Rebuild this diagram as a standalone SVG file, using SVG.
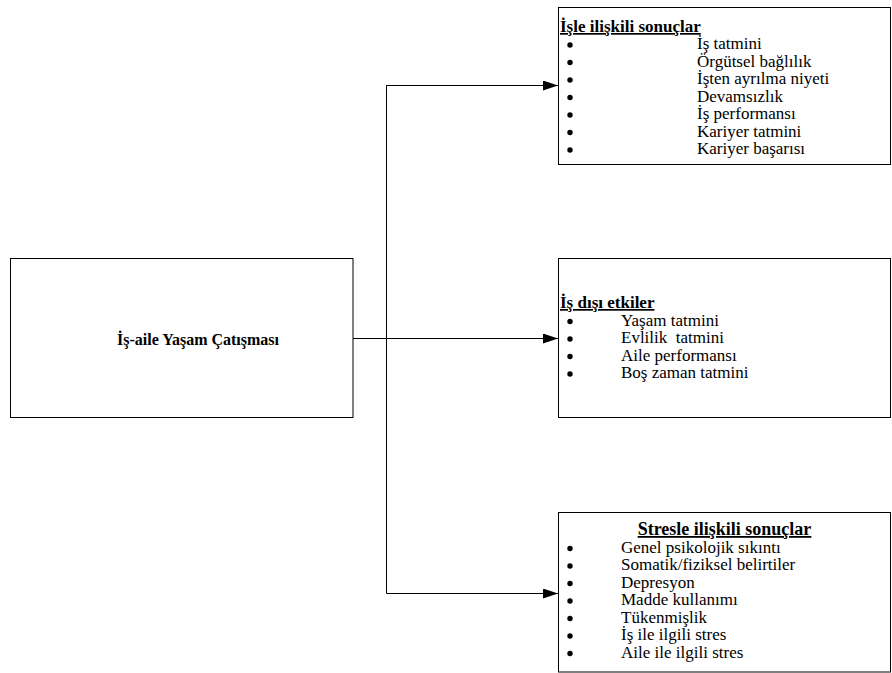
<svg xmlns="http://www.w3.org/2000/svg" width="892" height="673" viewBox="0 0 892 673">
<defs>
<style>
.box{fill:#fff;stroke:#000;stroke-width:1}
.t{font-family:"Liberation Serif","Times New Roman",serif;font-size:17px;fill:#000}
.b{font-weight:bold}
.u{text-decoration:underline}
.con{fill:none;stroke:#000;stroke-width:1}
.dot{fill:#000}
</style>
<marker id="arr" viewBox="0 0 15 10" refX="15" refY="5" markerWidth="15" markerHeight="10" markerUnits="userSpaceOnUse" orient="auto">
<path d="M0,0 L15,5 L0,10 Z" fill="#000"/>
</marker>
</defs>
<rect width="892" height="673" fill="#fff"/>
<g id="connectors">
<line class="con" x1="353" y1="338.5" x2="558" y2="338.5" marker-end="url(#arr)"/>
<polyline class="con" points="558,85.5 386.5,85.5 386.5,593.5 558,593.5" marker-end="url(#arr)"/>
<line class="con" x1="386.5" y1="85.5" x2="558" y2="85.5" marker-end="url(#arr)"/>
</g>
<g id="main">
<rect class="box" x="10.5" y="258.5" width="342.5" height="159"/>
<text class="t b" x="198" y="345" text-anchor="middle" style="font-size:16px">İş-aile Yaşam Çatışması</text>
</g>
<g id="work">
<rect class="box" x="558.5" y="7.5" width="332" height="157"/>
<text class="t b u" x="560" y="32">İşle ilişkili sonuçlar</text>
<circle class="dot" cx="570" cy="45" r="2.7"/>
<circle class="dot" cx="570" cy="62.5" r="2.7"/>
<circle class="dot" cx="570" cy="80" r="2.7"/>
<circle class="dot" cx="570" cy="97.5" r="2.7"/>
<circle class="dot" cx="570" cy="115" r="2.7"/>
<circle class="dot" cx="570" cy="132.5" r="2.7"/>
<circle class="dot" cx="570" cy="150" r="2.7"/>
<text class="t" x="697" y="49">İş tatmini</text>
<text class="t" x="697" y="66.5">Örgütsel bağlılık</text>
<text class="t" x="697" y="84">İşten ayrılma niyeti</text>
<text class="t" x="697" y="101.5">Devamsızlık</text>
<text class="t" x="697" y="119">İş performansı</text>
<text class="t" x="697" y="136.5">Kariyer tatmini</text>
<text class="t" x="697" y="154">Kariyer başarısı</text>
</g>
<g id="nonwork">
<rect class="box" x="558.5" y="258.5" width="332" height="159"/>
<text class="t b u" x="560" y="308">İş dışı etkiler</text>
<circle class="dot" cx="570" cy="321.5" r="2.7"/>
<circle class="dot" cx="570" cy="339" r="2.7"/>
<circle class="dot" cx="570" cy="356.5" r="2.7"/>
<circle class="dot" cx="570" cy="374" r="2.7"/>
<text class="t" x="621" y="325.5">Yaşam tatmini</text>
<text class="t" x="621" y="343" xml:space="preserve">Evlilik  tatmini</text>
<text class="t" x="621" y="360.5">Aile performansı</text>
<text class="t" x="621" y="378">Boş zaman tatmini</text>
</g>
<g id="stress">
<rect class="box" x="558.5" y="512.5" width="332" height="159.5"/>
<text class="t b u" x="724.5" y="535" text-anchor="middle" style="font-size:18px">Stresle ilişkili sonuçlar</text>
<circle class="dot" cx="570" cy="548.5" r="2.7"/>
<circle class="dot" cx="570" cy="566" r="2.7"/>
<circle class="dot" cx="570" cy="583.5" r="2.7"/>
<circle class="dot" cx="570" cy="601" r="2.7"/>
<circle class="dot" cx="570" cy="618.5" r="2.7"/>
<circle class="dot" cx="570" cy="636" r="2.7"/>
<circle class="dot" cx="570" cy="653.5" r="2.7"/>
<text class="t" x="621" y="552.5">Genel psikolojik sıkıntı</text>
<text class="t" x="621" y="570">Somatik/fiziksel belirtiler</text>
<text class="t" x="621" y="587.5">Depresyon</text>
<text class="t" x="621" y="605">Madde kullanımı</text>
<text class="t" x="621" y="622.5">Tükenmişlik</text>
<text class="t" x="621" y="640">İş ile ilgili stres</text>
<text class="t" x="621" y="657.5">Aile ile ilgili stres</text>
</g>
</svg>
